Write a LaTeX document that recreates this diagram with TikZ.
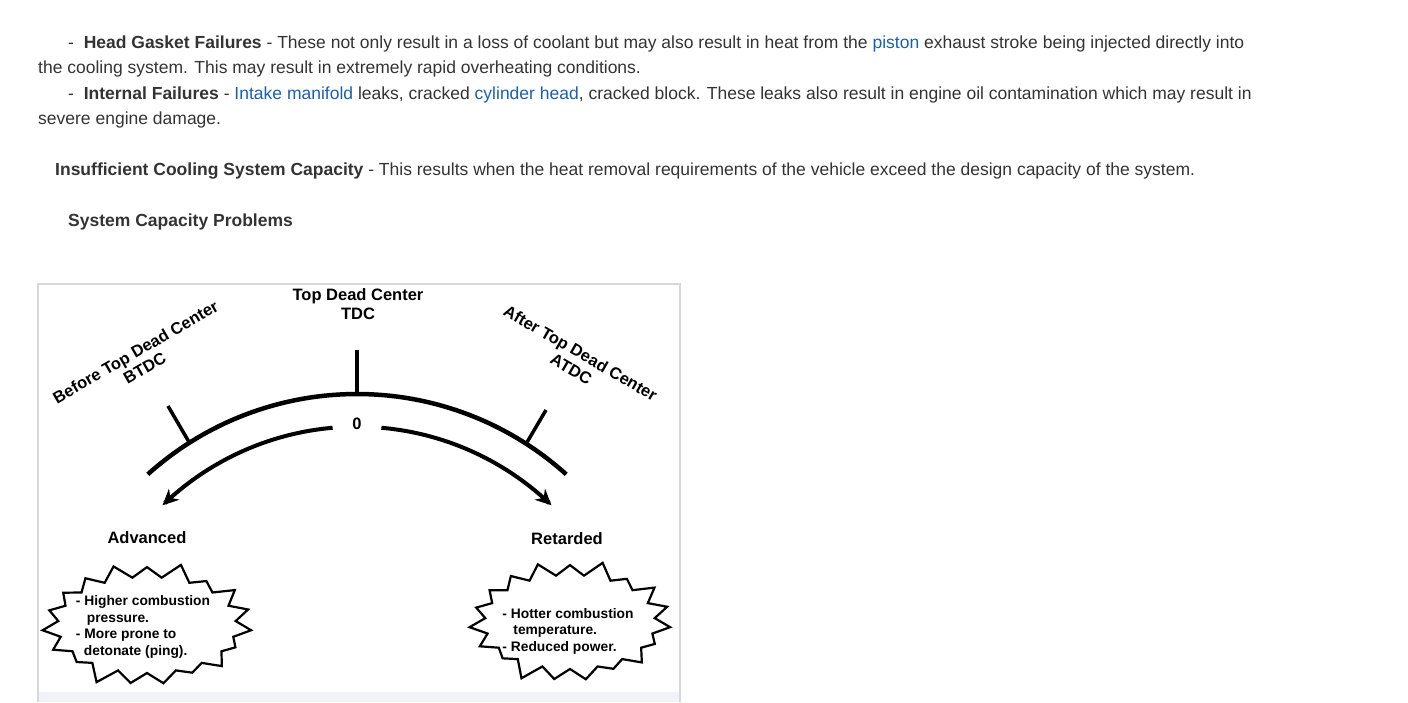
\documentclass[tikz,border=0pt]{standalone}
\usepackage{fontspec}
\setmainfont{Liberation Sans}
\usepackage{xcolor}
\usetikzlibrary{shapes.symbols, arrows.meta, calc}
\definecolor{bodytext}{RGB}{51,51,51}
\definecolor{linkblue}{RGB}{26,95,180}
\definecolor{framegray}{RGB}{214,216,220}
\definecolor{barfill}{RGB}{241,243,246}
\newcommand{\lnk}[1]{\textcolor{linkblue}{#1}}
\tikzset{
  para/.style={anchor=base west, inner sep=0pt, text=bodytext, font=\fontsize{17.5}{20}\selectfont},
  lbl/.style={inner sep=0pt, align=center, font=\fontsize{16.5}{18.5}\selectfont\bfseries},
  burst/.style={starburst, draw, line width=2.2pt, starburst points=19, starburst point height=17pt, random starburst=15},
  bursttext/.style={inner sep=0pt, align=left, font=\fontsize{13.8}{16.5}\selectfont\bfseries},
}

\begin{document}
\begin{tikzpicture}[x=1pt, y=-1pt, >={Stealth[length=16pt, width=15pt]}]
    \useasboundingbox (0,0) rectangle (1408,702);
    \pgfmathsetseed{11}

    % Text above
    \node[para] (gasket) at (68,48) {-\ \ \textbf{Head Gasket Failures} - These not only result in a loss of coolant but may also result in heat from the \lnk{piston} exhaust stroke being injected directly into};
    \node[para] (gasket2) at (38,73) {the cooling system. This may result in extremely rapid overheating conditions.};
    \node[para] (internal) at (68,99) {-\ \ \textbf{Internal Failures} - \lnk{Intake manifold} leaks, cracked \lnk{cylinder head}, cracked block. These leaks also result in engine oil contamination which may result in};
    \node[para] (internal2) at (38,124) {severe engine damage.};
    \node[para] (capacity) at (55,175) {\textbf{Insufficient Cooling System Capacity} - This results when the heat removal requirements of the vehicle exceed the design capacity of the system.};
    \node[para] (problems) at (68,226) {\textbf{System Capacity Problems}};

    % Frame
    \fill[barfill] (39,692) rectangle (679,702);
    \draw[framegray, line width=2.5pt] (38,702) -- (38,284) -- (680,284) -- (680,702);

    % Labels
    \node[lbl] (tdc) at (358,304) {Top Dead Center\\TDC};
    \node[lbl, rotate=30] (btdc) at (140,360) {Before Top Dead Center\\BTDC};
    \node[lbl, rotate=-30] (atdc) at (576,361) {After Top Dead Center\\ATDC};
    \node[lbl] (zero) at (357,424) {0};
    \node[lbl] (adv) at (147,538) {Advanced};
    \node[lbl] (ret) at (567,539) {Retarded};

    % Scale and ticks
    \draw[line width=4.5pt] plot[domain=132:48, samples=90] ({357+312.7*cos(\x)}, {706.7-312.7*sin(\x)});
    \draw[line width=3.5pt] (357,394) -- (357,350);
    \draw[line width=3.5pt] (189,442) -- (168,406);
    \draw[line width=3.5pt] (526,444) -- (546,410);

    % Arrows
    \draw[->, line width=4pt] plot[domain=95:134, samples=60] ({357+280*cos(\x)}, {706.7-280*sin(\x)});
    \draw[->, line width=4pt] plot[domain=85:46, samples=60] ({357+280*cos(\x)}, {706.7-280*sin(\x)});

    % Bursts
    \node[burst, minimum width=212pt, minimum height=130pt] (advburst) at (147,625) {};
    \node[bursttext] (advtext) at (143,627) {- Higher combustion\\\hspace*{11pt}pressure.\\- More prone to\\\hspace*{8pt}detonate (ping).};
    \node[burst, minimum width=204pt, minimum height=128pt] (retburst) at (570,622) {};
    \node[bursttext] (rettext) at (568,631) {- Hotter combustion\\\hspace*{11pt}temperature.\\- Reduced power.};
\end{tikzpicture}
\end{document}
